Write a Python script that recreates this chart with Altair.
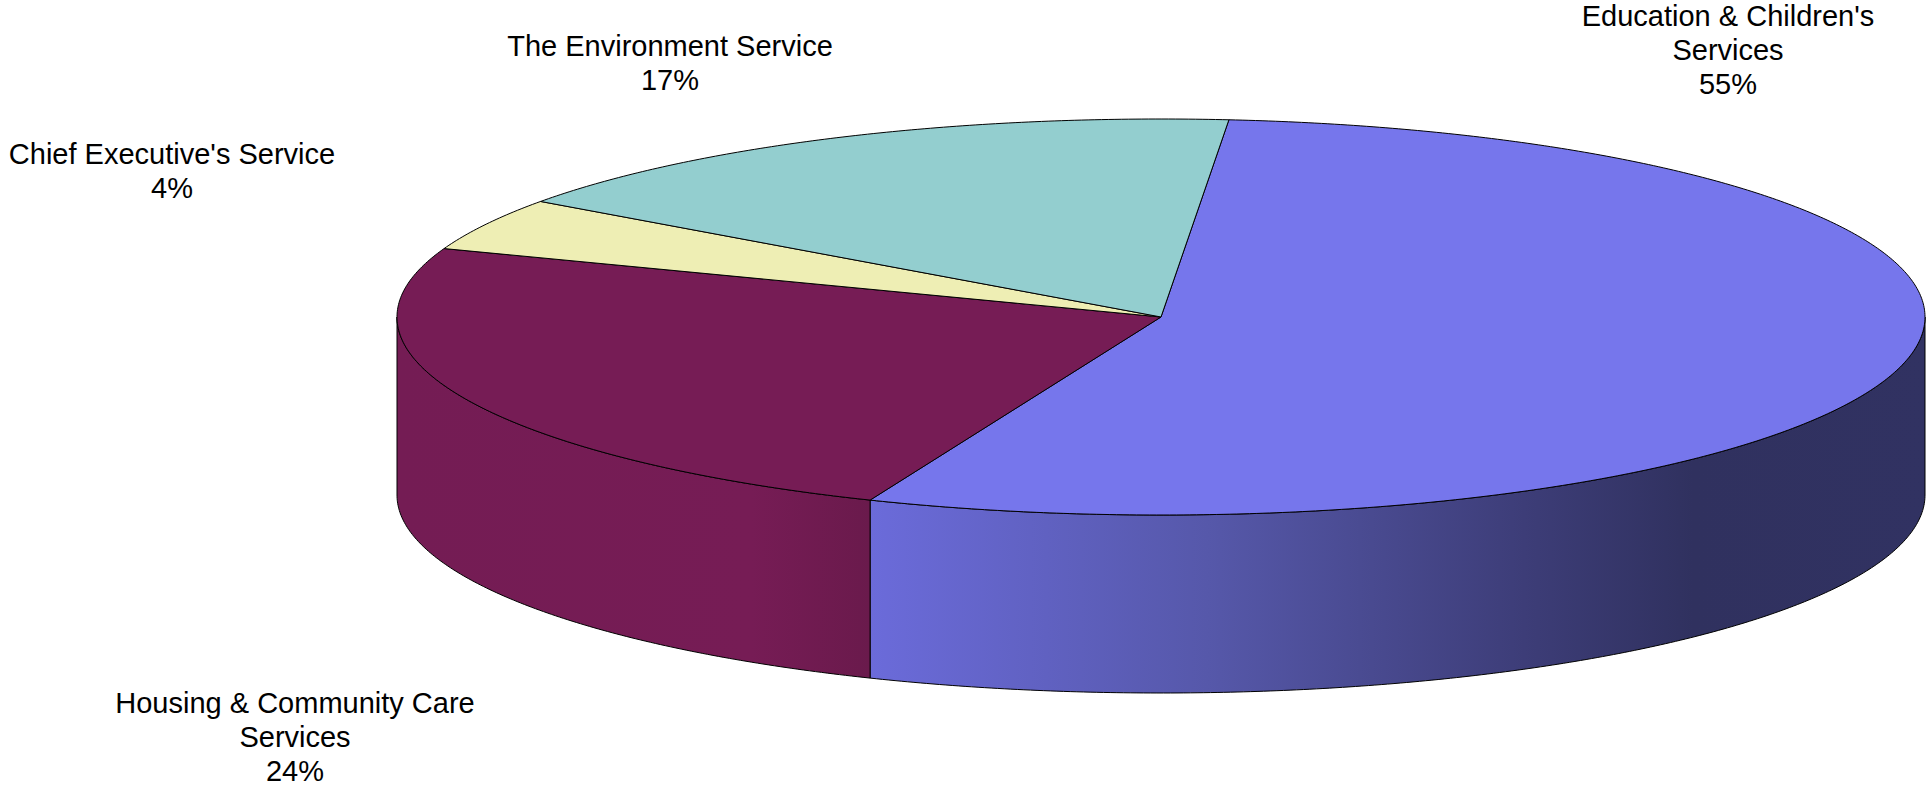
import math
import altair as alt
import pandas as pd

# ---- data ----
services = [
    "Education & Children's Services",
    "Housing & Community Care Services",
    "Chief Executive's Service",
    "The Environment Service",
]
shares = [54.8, 24.4, 4.3, 16.5]
label_texts = [
    "Education & Children's\nServices\n55%",
    "Housing & Community Care\nServices\n24%",
    "Chief Executive's Service\n4%",
    "The Environment Service\n17%",
]
top_colors = ["#7676EC", "#761C55", "#EEEEB4", "#93CECF"]

# ---- layout (pixels) ----
W, H = 1927, 787
CX, CY, RX, RY, DEPTH = 1161, 317, 764, 198, 178
START = 5.1  # degrees clockwise from 12 o'clock
label_x = [1728, 295, 172, 670]
label_y = [26, 713, 164, 56]

side_gradients = {
    services[0]: [("#6B6BDA", 0.0), ("#5658AA", 0.32), ("#3D3D78", 0.62), ("#30315F", 0.78), ("#313262", 1.0)],
    services[1]: [("#741C54", 0.0), ("#761C55", 0.75), ("#6A1A4C", 1.0)],
}


def pt(theta, dy=0.0):
    t = math.radians(theta)
    return CX + RX * math.sin(t), CY - RY * math.cos(t) + dy


rows = []
a = START
for name, share in zip(services, shares):
    a2 = a + share * 3.6
    n = max(int((a2 - a) / 0.5), 2)
    arc = [pt(a + (a2 - a) * k / n) for k in range(n + 1)]
    pts = [(CX, CY)] + arc + [(CX, CY)]
    for i, (x, y) in enumerate(pts):
        rows.append(dict(poly="top|" + name, service=name, kind="top", seq=i, x=x, y=y))
    lo, hi = max(a, 90.0), min(a2, 270.0)
    if lo < hi:
        m = max(int((hi - lo) / 0.5), 2)
        upper = [pt(lo + (hi - lo) * k / m) for k in range(m + 1)]
        lower = [pt(lo + (hi - lo) * k / m, DEPTH) for k in range(m, -1, -1)]
        pts = upper + lower + [upper[0]]
        for i, (x, y) in enumerate(pts):
            rows.append(dict(poly="side|" + name, service=name, kind="side", seq=i, x=x, y=y))
    a = a2

df = pd.DataFrame(rows)
labels = pd.DataFrame({"service": services, "text": label_texts, "x": label_x, "y": label_y})

xs = alt.X("x:Q", scale=alt.Scale(domain=[0, W], nice=False, zero=False), axis=None)
ys = alt.Y("y:Q", scale=alt.Scale(domain=[0, H], nice=False, zero=False, reverse=True), axis=None)

base = alt.Chart(df)
layers = []
for name, stops in side_gradients.items():
    grad = alt.Gradient(
        gradient="linear",
        stops=[alt.GradientStop(color=c, offset=o) for c, o in stops],
        x1=0, x2=1, y1=0, y2=0,
    )
    layers.append(
        base.transform_filter(alt.datum.poly == "side|" + name)
        .mark_line(filled=True, fill=grad, stroke="black", strokeWidth=1)
        .encode(x=xs, y=ys, order="seq:Q")
    )

top = (
    base.transform_filter(alt.datum.kind == "top")
    .mark_line(filled=True, stroke="black", strokeWidth=1, strokeJoin="round")
    .encode(
        x=xs,
        y=ys,
        order="seq:Q",
        detail="poly:N",
        color=alt.Color("service:N", scale=alt.Scale(domain=services, range=top_colors), legend=None),
    )
)
layers.append(top)

text = alt.Chart(labels).mark_text(
    font="Liberation Sans", fontSize=29, lineBreak="\n", lineHeight=34,
    align="center", baseline="alphabetic", color="black",
).encode(x=xs, y=ys, text="text:N")
layers.append(text)

chart = alt.layer(*layers).properties(
    width=W, height=H, padding=0, autosize=alt.AutoSizeParams(type="none"), background="white"
).configure_view(stroke=None)

chart.save("out.html", embed_options={"renderer": "svg", "actions": False})
